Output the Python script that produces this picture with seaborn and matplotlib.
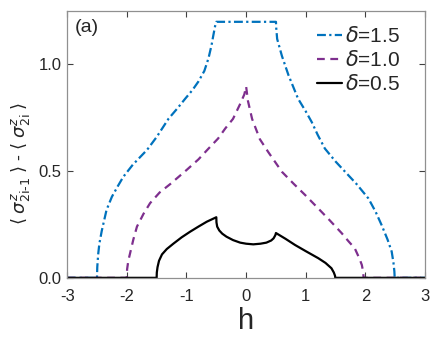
import matplotlib
matplotlib.use("Agg")
from matplotlib import pyplot as plt
import seaborn as sns

# values
h_15 = [-3, -2.5, -2.495, -2.48, -2.46, -2.42, -2.34, -2.25, -2.15, -2.06, -1.9, -1.78, -1.66, -1.5,
        -1.3, -1.15, -1.02, -0.9, -0.8, -0.7, -0.63, -0.58, -0.55, -0.52, -0.5,
        0.5, 0.505, 0.52, 0.56, 0.6, 0.71, 0.87, 1.0, 1.1, 1.2, 1.32, 1.5, 1.66, 1.85, 2.05, 2.17,
        2.27, 2.37, 2.44, 2.47, 2.485, 2.49, 3]
v_15 = [0, 0, 0.05, 0.11, 0.16, 0.22, 0.318, 0.38, 0.43, 0.473, 0.53, 0.565, 0.60, 0.66,
        0.746, 0.795, 0.84, 0.88, 0.92, 0.97, 1.03, 1.09, 1.136, 1.18, 1.2,
        1.2, 1.17, 1.12, 1.08, 1.04, 0.95, 0.84, 0.78, 0.73, 0.67, 0.606, 0.545, 0.497, 0.44, 0.372, 0.31,
        0.248, 0.18, 0.123, 0.07, 0.03, 0, 0]

h_10 = [-3, -2.0, -1.995, -1.975, -1.945, -1.89, -1.83, -1.72, -1.61, -1.45, -1.27, -1.0, -0.8,
        -0.63, -0.47, -0.35, -0.22, -0.1, -0.03, 0,
        0.03, 0.1, 0.23, 0.37, 0.6, 0.8, 0.99, 1.21, 1.4, 1.6, 1.72, 1.82, 1.9, 1.94, 1.96, 1.97, 3]
v_10 = [0, 0, 0.04, 0.08, 0.115, 0.18, 0.24, 0.30, 0.35, 0.40, 0.44, 0.505, 0.555,
        0.606, 0.653, 0.70, 0.745, 0.815, 0.86, 0.897,
        0.83, 0.745, 0.65, 0.59, 0.497, 0.44, 0.388, 0.325, 0.27, 0.21, 0.17, 0.139, 0.09, 0.06, 0.03, 0, 0]

h_05 = [-3, -1.5, -1.497, -1.485, -1.46, -1.41, -1.33, -1.22, -1.08, -0.94, -0.8, -0.66, -0.5,
        -0.497, -0.485, -0.45, -0.4, -0.33, -0.22, -0.1, 0.0, 0.12, 0.24, 0.34, 0.42, 0.46, 0.49, 0.5,
        0.66, 0.82, 1.0, 1.21, 1.33, 1.43, 1.47, 1.49, 1.495, 3]
v_05 = [0, 0, 0.025, 0.05, 0.08, 0.11, 0.135, 0.16, 0.19, 0.216, 0.24, 0.263, 0.284,
        0.26, 0.24, 0.222, 0.207, 0.193, 0.177, 0.165, 0.16, 0.157, 0.16, 0.165, 0.175, 0.185, 0.2, 0.21,
        0.183, 0.154, 0.125, 0.092, 0.07, 0.045, 0.025, 0.01, 0, 0]

x_ticks = [-3, -2, -1, 0, 1, 2, 3]
y_ticks = [0.0, 0.5, 1.0]

sns.set_style("ticks")
plt.rcParams['font.family'] = ['Liberation Sans', 'DejaVu Sans']
plt.rcParams['mathtext.fontset'] = 'dejavusans'

fig = plt.figure(figsize=(4.36, 3.38), dpi=100)
ax = fig.add_axes([0.154, 0.178, 0.821, 0.789])

sns.lineplot(x=h_15, y=v_15, sort=False, estimator=None, ax=ax, color='#0072BD',
             lw=1.6, linestyle=(0, (4, 1.5, 1, 1.5)), label=r'$\delta$=1.5')
sns.lineplot(x=h_10, y=v_10, sort=False, estimator=None, ax=ax, color='#7E2F8E',
             lw=1.6, linestyle=(0, (3.5, 2.5)), label=r'$\delta$=1.0')
sns.lineplot(x=h_05, y=v_05, sort=False, estimator=None, ax=ax, color='black',
             lw=1.6, label=r'$\delta$=0.5')

ax.set_xlim(-3, 3)
ax.set_ylim(0, 1.25)
ax.set_xticks(x_ticks)
ax.set_xticklabels([str(t) for t in x_ticks])
ax.set_yticks(y_ticks)
ax.set_yticklabels(['%.1f' % t for t in y_ticks])
ax.tick_params(direction='in', top=True, right=True, length=4, width=0.8,
               labelsize=12, labelcolor='#262626', color='#404040')
ax.tick_params(axis='x', pad=8)
ax.tick_params(axis='y', pad=4)
for s in ax.spines.values():
    s.set_visible(True)
    s.set_color('#909090')
    s.set_linewidth(0.9)

ax.set_xlabel('h', fontsize=21, labelpad=2)
ax.set_ylabel(r'$\langle\;\sigma^z_{\text{2i-1}}\;\rangle$ - $\langle\;\sigma^z_{\text{2i}}\;\rangle$',
              fontsize=13)
ax.yaxis.set_label_coords(-0.095, 0.43)

ax.text(0.02, 0.97, '(a)', transform=ax.transAxes, fontsize=14, va='top', ha='left')

leg = ax.legend(loc='upper right', bbox_to_anchor=(0.955, 0.975), frameon=False, fontsize=15,
                handlelength=1.2, handletextpad=0.15, labelspacing=0.2, borderaxespad=0.0)

fig.savefig('out.png', dpi=100)
